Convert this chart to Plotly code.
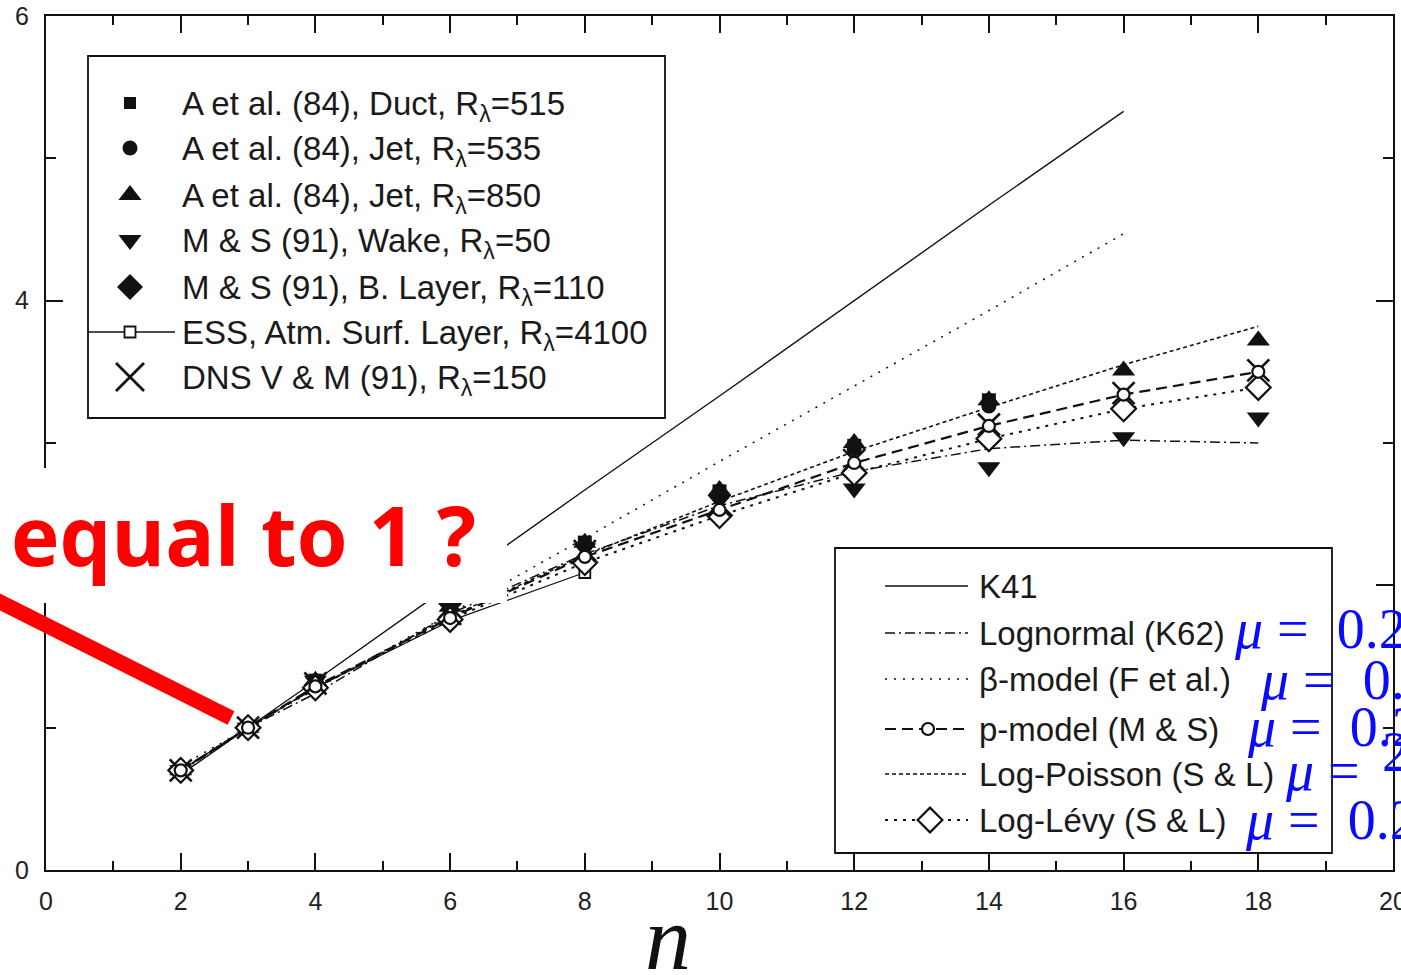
import plotly.graph_objects as go

# ---------------- data: scaling exponents zeta_n versus order n ----------------
n_k41 = [2, 4, 6, 8, 10, 12, 14, 16]
zeta_k41 = [0.67, 1.33, 2.00, 2.67, 3.33, 4.00, 4.67, 5.33]

n_beta = [2, 3, 4, 6, 8, 10, 12, 14, 16]
zeta_beta = [0.73, 1.00, 1.27, 1.80, 2.33, 2.87, 3.40, 3.93, 4.47]

n_model = [2, 3, 4, 6, 8, 10, 12, 14, 16, 18]
zeta_lognormal = [0.69, 1.00, 1.24, 1.80, 2.22, 2.56, 2.80, 2.96, 3.02, 3.00]
zeta_pmodel = [0.70, 1.00, 1.29, 1.77, 2.20, 2.53, 2.86, 3.12, 3.34, 3.50]
zeta_logpoisson = [0.70, 1.00, 1.28, 1.78, 2.21, 2.59, 2.94, 3.25, 3.55, 3.82]
zeta_loglevy = [0.70, 1.00, 1.28, 1.76, 2.16, 2.49, 2.79, 3.03, 3.24, 3.39]

n_anselmet = [2, 3, 4, 6, 8, 10, 12, 14]
zeta_duct = [0.70, 1.00, 1.33, 1.85, 2.30, 2.66, 2.98, 3.30]
zeta_jet535 = [0.70, 1.00, 1.33, 1.84, 2.28, 2.64, 2.96, 3.26]
n_jet850 = [2, 3, 4, 6, 8, 10, 12, 14, 16, 18]
zeta_jet850 = [0.70, 1.00, 1.33, 1.85, 2.30, 2.67, 3.00, 3.30, 3.51, 3.72]
n_wake = [2, 3, 4, 6, 8, 10, 12, 14, 16, 18]
zeta_wake = [0.70, 1.00, 1.33, 1.85, 2.26, 2.60, 2.68, 2.83, 3.04, 3.18]
n_blayer = [2, 3, 4, 6, 8, 10, 12, 14]
zeta_blayer = [0.70, 1.00, 1.30, 1.78, 2.18, 2.50, 2.79, 3.02]
n_ess = [2, 3, 4, 6, 8]
zeta_ess = [0.70, 1.00, 1.28, 1.75, 2.09]
n_dns = [2, 3, 4, 6, 8, 10, 12, 14, 16, 18]
zeta_dns = [0.70, 1.00, 1.31, 1.80, 2.24, 2.56, 2.88, 3.13, 3.35, 3.51]

x_ticks = [0, 2, 4, 6, 8, 10, 12, 14, 16, 18, 20]
y_ticks = [0, 2, 4, 6]

data_labels = [
    "A et al. (84), Duct, R<sub>λ</sub>=515",
    "A et al. (84), Jet, R<sub>λ</sub>=535",
    "A et al. (84), Jet, R<sub>λ</sub>=850",
    "M &amp; S (91), Wake, R<sub>λ</sub>=50",
    "M &amp; S (91), B. Layer, R<sub>λ</sub>=110",
    "ESS, Atm. Surf. Layer, R<sub>λ</sub>=4100",
    "DNS V &amp; M (91), R<sub>λ</sub>=150",
]
model_labels = [
    "K41",
    "Lognormal (K62)",
    "β-model (F et al.)",
    "p-model (M &amp; S)",
    "Log-Poisson (S &amp; L)",
    "Log-Lévy (S &amp; L)",
]
mu_labels = ["<i>μ</i> =\u20020.25", "<i>μ</i> =\u20020.25", "<i>μ</i> =\u20020.25",
             "<i>μ</i> =", "<i>μ</i> =\u20020.25"]

# ---------------- layout geometry (pixels) ----------------
FIG_W, FIG_H = 1401, 975
L, T, R, B = 46, 16, 1393, 870
W, H = R - L, B - T
INK = "#111111"
TXT = "#1a1a1a"


def px(x):
    return (x - L) / W


def py(y):
    return (B - y) / H


fig = go.Figure()

# model curves
line_styles = {
    "k41": dict(color=INK, width=1.4, dash="solid"),
    "lognormal": dict(color=INK, width=1.5, dash="10px,4px,2px,4px"),
    "beta": dict(color=INK, width=1.5, dash="2px,7px"),
    "pmodel": dict(color=INK, width=2.2, dash="11px,6px"),
    "logpoisson": dict(color=INK, width=1.6, dash="4px,3px"),
    "loglevy": dict(color=INK, width=2.0, dash="3px,6px"),
}
fig.add_trace(go.Scatter(x=n_k41, y=zeta_k41, mode="lines", line=line_styles["k41"]))
fig.add_trace(go.Scatter(x=n_model, y=zeta_lognormal, mode="lines", line=line_styles["lognormal"]))
fig.add_trace(go.Scatter(x=n_beta, y=zeta_beta, mode="lines", line=line_styles["beta"]))
fig.add_trace(go.Scatter(x=n_model, y=zeta_logpoisson, mode="lines", line=line_styles["logpoisson"]))
fig.add_trace(go.Scatter(x=n_model, y=zeta_pmodel, mode="lines", line=line_styles["pmodel"]))
fig.add_trace(go.Scatter(x=n_model, y=zeta_loglevy, mode="lines", line=line_styles["loglevy"]))
fig.add_trace(go.Scatter(x=n_ess, y=zeta_ess, mode="lines+markers",
                         line=dict(color=INK, width=1.2),
                         marker=dict(symbol="square", size=11, color="white",
                                     line=dict(color=INK, width=1.8))))

# measured exponents
filled = dict(color=INK, line=dict(width=0))
fig.add_trace(go.Scatter(x=n_anselmet, y=zeta_jet535, mode="markers",
                         marker=dict(symbol="circle", size=15, **filled)))
fig.add_trace(go.Scatter(x=n_anselmet, y=zeta_duct, mode="markers",
                         marker=dict(symbol="square", size=14, **filled)))
fig.add_trace(go.Scatter(x=n_jet850, y=zeta_jet850, mode="markers",
                         marker=dict(symbol="triangle-up", size=20, **filled)))
fig.add_trace(go.Scatter(x=n_wake, y=zeta_wake, mode="markers",
                         marker=dict(symbol="triangle-down", size=20, **filled)))
fig.add_trace(go.Scatter(x=n_blayer, y=zeta_blayer, mode="markers",
                         marker=dict(symbol="diamond", size=18, **filled)))
fig.add_trace(go.Scatter(x=n_model, y=zeta_loglevy, mode="markers",
                         marker=dict(symbol="diamond", size=19, color="white",
                                     line=dict(color=INK, width=2.2))))
fig.add_trace(go.Scatter(x=n_dns, y=zeta_dns, mode="markers",
                         marker=dict(symbol="x-thin", size=22, color=INK,
                                     line=dict(color=INK, width=2.6))))
fig.add_trace(go.Scatter(x=n_model, y=zeta_pmodel, mode="markers",
                         marker=dict(symbol="circle", size=12, color="white",
                                     line=dict(color=INK, width=2.2))))

# ---------------- legend panels drawn on a pixel-space overlay ----------------
ov = dict(xaxis="x2", yaxis="y2")
row_y1 = [103, 148, 195, 240, 287, 332, 377]
sym1 = [("square", 12), ("circle", 15), ("triangle-up", 20), ("triangle-down", 20),
        ("diamond", 20), None, ("x-thin", 28)]
for y, s in zip(row_y1, sym1):
    if s is None:
        fig.add_trace(go.Scatter(x=[88, 175], y=[y, y], mode="lines",
                                 line=dict(color=INK, width=1.3), **ov))
        fig.add_trace(go.Scatter(x=[130], y=[y], mode="markers",
                                 marker=dict(symbol="square", size=11, color="white",
                                             line=dict(color=INK, width=1.8)), **ov))
    elif s[0] == "x-thin":
        fig.add_trace(go.Scatter(x=[130], y=[y], mode="markers",
                                 marker=dict(symbol="x-thin", size=s[1], color=INK,
                                             line=dict(color=INK, width=2.8)), **ov))
    else:
        fig.add_trace(go.Scatter(x=[130], y=[y], mode="markers",
                                 marker=dict(symbol=s[0], size=s[1], **filled), **ov))

row_y2 = [586, 633, 679, 729, 774, 820]
keys2 = ["k41", "lognormal", "beta", "pmodel", "logpoisson", "loglevy"]
for y, k in zip(row_y2, keys2):
    fig.add_trace(go.Scatter(x=[885, 968], y=[y, y], mode="lines", line=line_styles[k], **ov))
fig.add_trace(go.Scatter(x=[928], y=[row_y2[3]], mode="markers",
                         marker=dict(symbol="circle", size=12, color="white",
                                     line=dict(color=INK, width=2.2)), **ov))
fig.add_trace(go.Scatter(x=[930], y=[row_y2[5]], mode="markers",
                         marker=dict(symbol="diamond", size=19, color="white",
                                     line=dict(color=INK, width=2.2)), **ov))

shapes = [
    dict(type="rect", xref="paper", yref="paper", x0=px(88), x1=px(665), y0=py(418), y1=py(56),
         line=dict(color=INK, width=1.8), fillcolor="white", layer="below"),
    dict(type="rect", xref="paper", yref="paper", x0=px(835), x1=px(1332), y0=py(853), y1=py(548),
         line=dict(color=INK, width=1.8), fillcolor="white", layer="below"),
    # callout panel and pointer
    dict(type="rect", xref="paper", yref="paper", x0=px(-2), x1=px(507), y0=py(603), y1=py(468),
         line=dict(width=0), fillcolor="white", layer="above"),
    dict(type="line", xref="paper", yref="paper", x0=px(-4), y0=py(600), x1=px(231), y1=py(718),
         line=dict(color="#ff0000", width=15), layer="above"),
]

annotations = []
for y, t in zip(row_y1, data_labels):
    annotations.append(dict(x=px(180), y=py(y + 3), xref="paper", yref="paper", text=t,
                            showarrow=False, xanchor="left", yanchor="middle",
                            font=dict(family="Liberation Sans", size=33, color=TXT)))
for y, t in zip(row_y2, model_labels):
    annotations.append(dict(x=px(977), y=py(y), xref="paper", yref="paper", text=t,
                            showarrow=False, xanchor="left", yanchor="middle",
                            font=dict(family="Liberation Sans", size=33, color=TXT)))

mu_x = [1232, 1258, 1245, 1283, 1243]
mu_y = [629, 680, 727, 771, 820]
for x, y, t in zip(mu_x, mu_y, mu_labels):
    annotations.append(dict(x=px(x), y=py(y), xref="paper", yref="paper", text=t,
                            showarrow=False, xanchor="left", yanchor="middle",
                            font=dict(family="Liberation Serif", size=56, color="#0a0aff")))
annotations.append(dict(x=px(1380), y=py(752), xref="paper", yref="paper", text="2",
                        showarrow=False, xanchor="left", yanchor="middle",
                        font=dict(family="Liberation Serif", size=56, color="#0a0aff")))

annotations.append(dict(x=px(9), y=py(534), xref="paper", yref="paper", text="<b>equal to 1 ?</b>",
                        showarrow=False, xanchor="left", yanchor="middle",
                        font=dict(family="Open Sans", size=82, color="#ff0000")))

annotations.append(dict(x=px(668), y=py(938), xref="paper", yref="paper", text="<i>n</i>",
                        showarrow=False, xanchor="center", yanchor="middle",
                        font=dict(family="Liberation Serif", size=92, color=INK)))

axis_common = dict(
    showline=True, linecolor=INK, linewidth=2, mirror="ticks",
    ticks="inside", ticklen=17, tickwidth=1.8, tickcolor=INK,
    showgrid=False, zeroline=False, ticklabeloverflow="allow", automargin=False,
    tickfont=dict(family="Liberation Sans", size=25, color="#222222"),
)

fig.update_layout(
    width=FIG_W, height=FIG_H,
    margin=dict(l=L, r=FIG_W - R, t=T, b=FIG_H - B, autoexpand=False),
    paper_bgcolor="white", plot_bgcolor="white",
    showlegend=False,
    xaxis=dict(range=[0, 20], tickvals=x_ticks, ticklabelstandoff=8,
               minor=dict(ticks="inside", ticklen=9, dtick=1, tickwidth=1.8, tickcolor=INK),
               **axis_common),
    yaxis=dict(range=[0, 6], tickvals=y_ticks, ticklabelstandoff=10,
               minor=dict(ticks="inside", ticklen=10, dtick=1, tickwidth=1.8, tickcolor=INK),
               **axis_common),
    xaxis2=dict(overlaying="x", range=[L, R], visible=False),
    yaxis2=dict(overlaying="y", range=[B, T], visible=False),
    shapes=shapes,
    annotations=annotations,
)

fig.write_html("out.html")
